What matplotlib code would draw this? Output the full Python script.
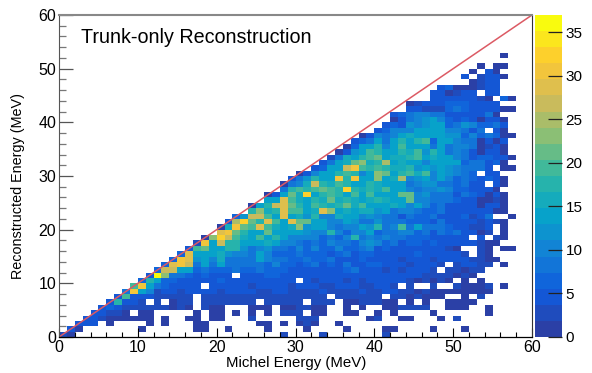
import numpy as np
import matplotlib
matplotlib.use('Agg')
import matplotlib.pyplot as plt
from matplotlib.colors import LinearSegmentedColormap, BoundaryNorm

plt.rcParams['font.family'] = ['Liberation Sans', 'DejaVu Sans']

## histogram counts, each row starts at the diagonal bin (x bin == y bin)
row_00 = [2,1,0,0,0,0,0,0,0,0,0,0,0,0,0,0,0,0,0,0,0,0,0,0,0,0,0,0,3,0,0,0,0,3,0,0,0,0,0,0,0,3]
row_01 = [4,1,0,0,0,0,0,0,0,1,0,0,0,0,0,0,1,1,0,0,1,0,0,0,0,1,0,0,0,0,1,0,0,0,0,1,0,0,0,0,1,1,0,0,0,0,1,0,0,0,1]
row_02 = [4,4,4,0,1,0,0,0,0,1,0,1,0,0,0,1,1,0,0,0,0,0,0,1,1,0,1,0,1,2,1,0,0,1]
row_03 = [4,4,2,1,1,1,1,1,1,0,1,0,0,1,1,0,1,1,0,0,0,2,0,0,0,0,0,2,2,2,0,0,0,0,0,0,1,2,0,0,1,1,0,0,0,1,0,3]
row_04 = [5,4,3,2,1,0,1,1,0,0,0,0,0,1,0,1,1,0,1,0,1,0,1,0,2,2,2,0,1,1,0,0,1,1,0,0,1,0,1,0,0,0,0,1,0,0,0,0,0,0,1]
row_05 = [5,6,4,3,2,2,2,2,2,1,2,1,0,2,1,1,0,0,0,1,1,1,0,1,1,2,2,1,1,0,0,1,0,1,0,0,1,1,2,2,3,3,0,0,1,1,1,0,0,1]
row_06 = [5,17,5,4,3,0,3,0,1,2,2,0,3,2,2,2,2,2,2,0,2,3,3,2,2,0,2,2,2,0,1,1,2,2,2,1,1,0,1,0,1,0,0,1,1,1,1]
row_07 = [5,20,5,5,4,3,3,2,2,2,0,3,2,2,2,3,2,2,2,3,3,2,2,2,2,2,2,0,2,2,2,3,2,2,0,2,2,1,2,1,1,1,0,0,1,0,3]
row_08 = [8,31,14,11,3,4,4,3,4,4,4,4,3,4,4,4,4,3,3,4,4,3,3,3,3,4,3,3,3,3,4,3,3,4,4,3,3,1,3,1,1,1,1,1,1,1,1]
row_09 = [19,31,13,9,6,5,4,4,4,0,4,4,4,4,4,3,4,4,4,4,3,4,4,4,3,3,4,4,4,3,3,4,4,3,0,3,0,0,3,0,0,3,1,1,1,3,0,1]
row_10 = [6,17,14,6,6,5,4,4,5,4,6,4,5,5,4,4,4,4,4,4,0,4,3,4,4,4,3,4,3,4,4,4,4,4,3,1,3,1,3,1,0,1,0,1]
row_11 = [5,37,23,8,8,6,5,6,5,4,4,0,5,5,4,6,6,5,4,4,4,4,4,4,4,4,4,4,4,4,4,4,5,4,4,3,3,3,3,1,3,1]
row_12 = [6,27,26,14,14,6,9,6,6,6,8,6,6,9,6,6,6,4,5,5,5,4,5,4,6,8,4,4,4,3,4,3,4,4,4,3,0,3,3,1,3,3]
row_13 = [6,29,30,26,9,13,9,13,8,8,8,8,8,6,10,6,6,5,6,8,5,6,5,8,4,4,6,6,4,4,5,3,4,5,4,3,0,3,4,4,3,3,0,1]
row_14 = [6,30,28,12,13,10,15,9,9,8,8,13,10,8,8,6,6,9,6,6,8,5,5,5,6,5,4,5,5,3,5,5,4,3,4,4,4,4,3,3,1,1]
row_15 = [6,29,14,13,13,15,12,10,10,9,14,10,6,6,6,8,6,6,6,5,6,8,5,6,6,4,5,4,4,5,6,5,4,4,4,4,3,0,3,1]
row_16 = [5,19,22,14,14,17,18,12,9,10,12,9,8,6,10,6,11,6,6,11,6,6,8,10,5,6,5,5,5,4,4,4,4,3,1,0,0,3,1,0,1,1]
row_17 = [2,30,14,27,18,18,13,13,14,16,13,10,10,9,6,8,6,10,8,9,6,10,12,10,6,8,5,6,6,4,6,5,5,4,4,4,3,1,1]
row_18 = [1,24,32,27,19,16,13,20,14,17,14,11,11,10,10,6,9,6,11,17,9,11,8,10,8,9,6,6,6,4,5,5,5,4,0,4,0,3,1]
row_19 = [0,28,31,21,17,13,13,22,14,13,14,14,12,11,10,18,10,6,11,10,14,6,9,9,11,10,6,8,4,8,6,8,4,4,1,3,0,1]
row_20 = [1,15,30,21,19,28,20,15,14,15,23,12,13,13,11,9,10,10,13,12,17,9,11,20,8,14,8,8,9,6,5,5,3,3,4,0,1]
row_21 = [5,25,33,22,17,29,20,13,28,22,22,14,14,10,11,14,12,9,8,12,8,8,9,6,6,6,5,8,4,5,5,4,3,4,3,1]
row_22 = [6,12,26,27,20,13,28,14,16,12,17,10,11,15,14,14,11,12,10,8,9,5,9,6,6,8,5,4,4,6,3,4,9,0,0,1]
row_23 = [0,17,23,15,17,28,19,20,14,16,29,24,13,15,14,16,15,12,13,8,10,10,9,6,6,8,5,4,5,4,4,4,1,1]
row_24 = [1,14,17,26,28,21,18,13,20,17,16,17,22,15,19,13,13,14,16,14,11,13,11,6,8,5,5,5,4,1,4,4,1]
row_25 = [0,13,14,28,19,16,14,18,15,22,16,18,16,13,15,18,16,13,14,21,11,10,9,8,8,6,5,5,1,1,3,1]
row_26 = [1,5,14,22,15,32,14,17,19,17,14,19,14,20,13,14,14,21,22,10,12,8,9,8,5,8,6,4,1,4,1]
row_27 = [0,8,17,19,17,20,21,20,17,32,17,15,17,16,20,14,13,11,9,11,10,12,10,6,6,5,4,4,1]
row_28 = [1,8,11,16,26,17,16,19,17,14,14,18,15,14,13,13,9,11,12,12,8,9,6,8,5,4,0,4,1]
row_29 = [4,9,12,17,13,14,30,17,30,14,14,24,14,16,25,10,12,13,10,13,11,6,9,6,5,6,4,1]
row_30 = [1,4,10,14,14,18,19,17,11,14,23,22,14,17,19,15,20,11,14,12,10,8,6,0,4,4]
row_31 = [0,4,6,14,14,27,31,20,17,19,17,16,15,17,12,13,12,14,12,10,9,9,8,5,0,1,1]
row_32 = [0,4,8,14,16,22,23,16,18,25,14,16,14,13,11,14,14,14,13,6,8,8,5,6,1]
row_33 = [0,3,8,15,14,17,19,21,13,16,15,17,20,14,16,13,14,11,9,5,6,6,4,4,1]
row_34 = [0,1,5,12,13,20,18,14,14,18,16,20,12,18,13,8,10,8,5,1,5,4,1]
row_35 = [0,1,6,13,14,18,10,14,19,13,14,14,8,13,8,11,10,8,1,3,4,1]
row_36 = [0,4,6,9,13,9,14,18,14,18,19,6,14,13,11,9,8,1,4,1,4]
row_37 = [0,1,4,11,9,11,13,15,13,13,14,14,12,12,6,10,6,8,6,1,1]
row_38 = [0,0,4,6,10,10,11,13,13,14,13,10,10,8,4,8,0,5,1]
row_39 = [0,0,4,6,5,12,11,12,13,13,6,9,12,11,6,6,9,4]
row_40 = [0,0,1,4,8,10,12,13,10,6,5,6,4,1,5,4,1]
row_41 = [0,4,6,9,10,10,8,8,5,5,5,5,5,8,1]
row_42 = [0,0,4,4,3,3,3,6,8,6,5,5,5,5,1,1]
row_43 = [0,1,3,4,4,5,6,6,6,4,5,5,5]
row_44 = [0,0,0,4,5,4,4,4,4,3,1,0,6,1]
row_45 = [0,0,4,4,1,3,4,4,0,4,4]
row_46 = [0,0,4,6,1,1,1,3,4,4]
row_47 = [0,0,0,0,0,1,3,5,4]
row_48 = [0,0,0,4,0,3,4,4,1]
row_49 = [0,0,0,1,0,4,1]
row_50 = [0,0,0,1,0,1,1]
row_51 = []
row_52 = [0,0,0,0,1]

rows = [row_00, row_01, row_02, row_03, row_04, row_05, row_06, row_07, row_08, row_09,
        row_10, row_11, row_12, row_13, row_14, row_15, row_16, row_17, row_18, row_19,
        row_20, row_21, row_22, row_23, row_24, row_25, row_26, row_27, row_28, row_29,
        row_30, row_31, row_32, row_33, row_34, row_35, row_36, row_37, row_38, row_39,
        row_40, row_41, row_42, row_43, row_44, row_45, row_46, row_47, row_48, row_49,
        row_50, row_51, row_52]

title_text = 'Trunk-only Reconstruction'
x_label = 'Michel Energy (MeV)'
y_label = 'Reconstructed Energy (MeV)'
z_max = 37
n_levels = 20

# ROOT kBird palette, first stop lifted a bit to match the picture
bird = [(0.17, 0.25, 0.65), (0.0592, 0.3599, 0.8684), (0.0780, 0.5041, 0.8385),
        (0.0232, 0.6419, 0.7914), (0.1802, 0.7178, 0.6425), (0.5301, 0.7492, 0.4662),
        (0.8186, 0.7328, 0.3499), (0.9956, 0.7862, 0.1968), (0.9764, 0.9832, 0.0539)]
cmap = LinearSegmentedColormap.from_list('bird', bird, N=n_levels)
norm = BoundaryNorm(np.linspace(0, z_max, n_levels + 1), n_levels)

counts = np.zeros((60, 60))
for j, row in enumerate(rows):
    for k, v in enumerate(row):
        counts[j, j + k] = v
counts = np.ma.masked_equal(counts, 0)
edges = np.arange(61)

W, H = 592, 373
fig = plt.figure(figsize=(W / 100, H / 100), dpi=100)
ax = fig.add_axes([59 / W, 1 - 337 / H, 473 / W, 322 / H])
mesh = ax.pcolormesh(edges, edges, counts, cmap=cmap, norm=norm, linewidth=0)
ax.plot([0, 60], [0, 60], color='#dc5a64', lw=1.1)

ax.set_xlim(0, 60)
ax.set_ylim(0, 60)
ax.set_xticks(np.arange(0, 61, 10))
ax.set_yticks(np.arange(0, 61, 10))
ax.set_xticks(np.arange(0, 61, 2), minor=True)
ax.set_yticks(np.arange(0, 61, 2), minor=True)
ax.tick_params(axis='x', which='major', direction='in', length=6.5, width=0.8, labelsize=11.5, pad=2)
ax.tick_params(axis='x', which='minor', direction='in', length=3.3, width=0.8)
ax.tick_params(axis='y', which='major', direction='in', length=10, width=0.9, color='#555555', labelsize=11.5, pad=2)
ax.tick_params(axis='y', which='minor', direction='in', length=5, width=0.9, color='#777777')
ax.spines['top'].set_color('#888888')
ax.spines['top'].set_linewidth(1.5)
ax.spines['left'].set_color('#555555')
ax.spines['right'].set_color('#333333')
ax.spines['right'].set_linewidth(0.8)
ax.spines['bottom'].set_linewidth(0.9)

# labels placed in pixels, ROOT style
fig.text(366 / W, 1 - 363 / H, x_label, fontsize=10.8, ha='right', va='center')
fig.text(18 / W, 1 - 186 / H, y_label, fontsize=10.4, rotation=90, ha='center', va='center')
fig.text(81 / W, 1 - 43 / H, title_text, fontsize=14.2, ha='left', va='baseline')

cax = fig.add_axes([535 / W, 1 - 337 / H, 27 / W, 322 / H])
cb = fig.colorbar(mesh, cax=cax, spacing='proportional')
cb.set_ticks(np.arange(0, 36, 5))
cb.minorticks_off()
cb.outline.set_visible(False)
cax.tick_params(axis='y', direction='in', length=10, width=0.9, color='#222222', labelsize=11, pad=2.5)
cax.set_ylim(0, z_max)

fig.savefig('out.png', dpi=100)
